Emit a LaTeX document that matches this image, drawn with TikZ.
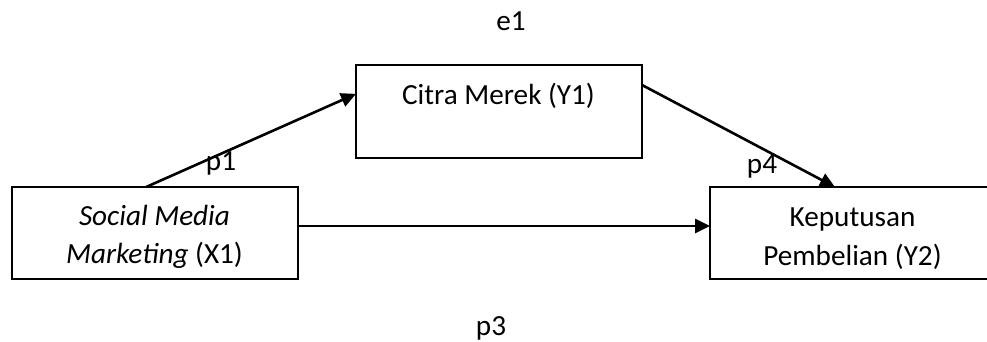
\documentclass[tikz,border=0pt]{standalone}
\usepackage{fontspec}
\setmainfont{Carlito}
\usetikzlibrary{arrows.meta,calc}
\begin{document}
\begin{tikzpicture}[x=1pt,y=-1pt,
  box/.style={draw=black,line width=1.8pt,minimum width=286pt,minimum height=92pt,inner sep=0pt,outer sep=0pt},
  txt/.style={anchor=base,inner sep=0pt,font=\fontsize{29.2}{35}\selectfont},
  conn/.style={line width=2.6pt,-{Triangle[length=15pt,width=14pt]}}]
\clip (0,0) rectangle (987,341);
\fill[white] (0,0) rectangle (987,341);
\node[box] (x1) at (155,233) {};
\node[box,minimum height=93pt] (y1) at (499,111.5) {};
\node[box,minimum width=310pt] (y2) at (865,233) {};
\node[txt] (t1a) at (154.5,225) {\itshape Social Media};
\node[txt] (t1b) at (154.5,263) {\textit{Marketing} (X1)};
\node[txt] (t2) at (498.5,104) {Citra Merek (Y1)};
\node[txt] (t3a) at (852.5,226) {Keputusan};
\node[txt] (t3b) at (852.5,265) {Pembelian (Y2)};
\node[txt] (e1) at (511,30) {e1};
\node[txt] (p1) at (221,170) {p1};
\node[txt] (p4) at (762,173) {p4};
\node[txt] (p3) at (491,335) {p3};
\draw[conn] ($(x1.north west)!0.469!(x1.north east)$) -- ($(y1.north west)!0.31!(y1.south west)$);
\draw[conn] ($(y1.north east)!0.215!(y1.south east)$) -- ($(y2.north west)!0.403!(y2.north east)$);
\draw[conn] ($(x1.east)+(0,-7)$) -- ($(y2.west)+(0,-7)$);
\end{tikzpicture}
\end{document}
